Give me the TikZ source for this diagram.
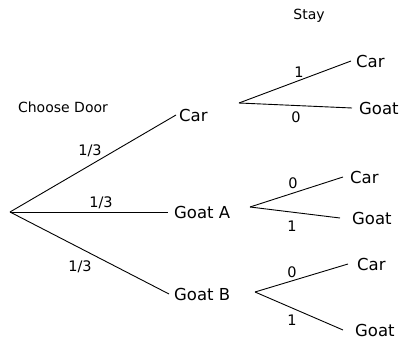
\documentclass[tikz,border=0pt]{standalone}
\usepackage{fontspec}
\setmainfont{DejaVu Sans}
\begin{document}
\begin{tikzpicture}[line join=bevel,
  outcome/.style={anchor=west,inner sep=3bp,font=\fontsize{16.5bp}{19bp}\selectfont},
  prob/.style={inner sep=1bp,font=\fontsize{14.5bp}{17bp}\selectfont},
  header/.style={inner sep=1bp,font=\fontsize{14bp}{17bp}\selectfont},
  branch/.style={black,line width=0.9bp}]
%%
\useasboundingbox (0bp,0bp) rectangle (404bp,341bp);
  \coordinate (root) at (10bp,129bp);
  \coordinate (car_fork) at (239bp,238bp);
  \coordinate (goata_fork) at (250bp,134bp);
  \coordinate (goatb_fork) at (255bp,49bp);
  \node (choose) at (63bp,234bp) [header] {Choose Door};
  \node (stay) at (309bp,325bp) [header] {Stay};
  \node (car) at (176bp,226bp) [outcome] {Car};
  \node (goat_a) at (168bp,129bp) [outcome,inner sep=6bp] {Goat A};
  \node (goat_b) at (169bp,47bp) [outcome,inner sep=5bp] {Goat B};
  \node (car_car) at (351bp,280bp) [outcome,inner sep=5bp] {Car};
  \node (car_goat) at (352bp,233bp) [outcome,inner sep=7bp] {Goat};
  \node (goata_car) at (343bp,164bp) [outcome,inner sep=7bp] {Car};
  \node (goata_goat) at (340bp,123bp) [outcome,inner sep=12bp] {Goat};
  \node (goatb_car) at (348bp,77bp) [outcome,inner sep=9bp] {Car};
  \node (goatb_goat) at (343bp,11bp) [outcome,inner sep=12bp] {Goat};
  \node (p_car) at (90bp,190bp) [prob] {1/3};
  \node (p_goat_a) at (101bp,138bp) [prob] {1/3};
  \node (p_goat_b) at (80bp,74bp) [prob] {1/3};
  \node (p_car_car) at (299bp,269bp) [prob] {1};
  \node (p_car_goat) at (296bp,224bp) [prob] {0};
  \node (p_goata_car) at (293bp,158bp) [prob] {0};
  \node (p_goata_goat) at (292bp,115bp) [prob] {1};
  \node (p_goatb_car) at (292bp,69bp) [prob] {0};
  \node (p_goatb_goat) at (292bp,21bp) [prob] {1};
  \draw [branch] (root) -- (car.west);
  \draw [branch] (root) -- (goat_a.west);
  \draw [branch] (root) -- (goat_b.west);
  \draw [branch] (car_fork) -- (car_car.west);
  \draw [branch] (car_fork) -- (car_goat.west);
  \draw [branch] (goata_fork) -- (goata_car.west);
  \draw [branch] (goata_fork) -- (goata_goat.west);
  \draw [branch] (goatb_fork) -- (goatb_car.west);
  \draw [branch] (goatb_fork) -- (goatb_goat.west);
%
\end{tikzpicture}
\end{document}
